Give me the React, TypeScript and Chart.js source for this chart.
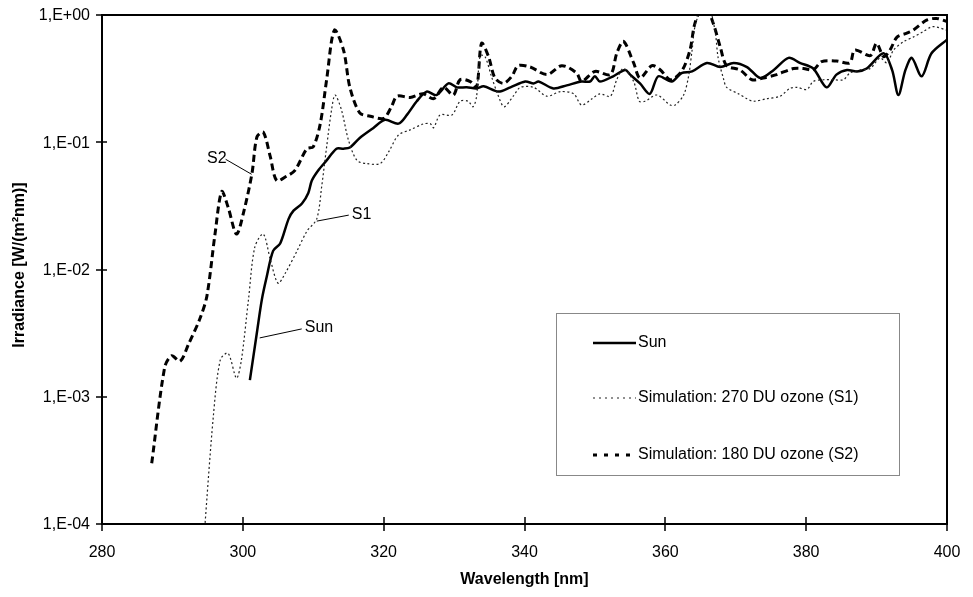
import React, { useEffect, useRef } from "react";
import { Chart, registerables } from "chart.js";

Chart.register(...registerables);

const FONT = '"Liberation Sans", Arial, Helvetica, sans-serif';

// Wavelength [nm] ticks and irradiance decades
const xTicks = [280, 300, 320, 340, 360, 380, 400];
const yTicks = [1e-4, 1e-3, 1e-2, 1e-1, 1];

const seriesNames = ["Sun", "Simulation: 270 DU ozone (S1)", "Simulation: 180 DU ozone (S2)"];

// [wavelength nm, irradiance W/(m2 nm)]
const sunData: number[][] = [
  [301.0, 0.00135], [302.0, 0.0032], [302.7, 0.0058], [303.4, 0.0088], [304.3, 0.014],
  [305.3, 0.016], [306.5, 0.025], [307.2, 0.029], [308.4, 0.033], [309.3, 0.04],
  [309.8, 0.05], [310.7, 0.06], [311.9, 0.072], [313.3, 0.089], [314.3, 0.089],
  [315.2, 0.091], [316.6, 0.108], [318.5, 0.129], [320.2, 0.15], [322.1, 0.14],
  [323.3, 0.164], [324.7, 0.21], [326.1, 0.25], [327.5, 0.235], [329.2, 0.29],
  [330.4, 0.27], [331.8, 0.27], [333.2, 0.265], [334.2, 0.275], [336.3, 0.25],
  [338.0, 0.27], [340.1, 0.3], [341.3, 0.29], [342.0, 0.3], [344.1, 0.265],
  [346.0, 0.28], [348.1, 0.3], [349.3, 0.3], [350.0, 0.33], [350.7, 0.3],
  [352.6, 0.33], [354.3, 0.37], [355.0, 0.34], [356.4, 0.29], [357.8, 0.24],
  [359.0, 0.33], [360.9, 0.3], [362.3, 0.35], [363.8, 0.36], [365.9, 0.42],
  [367.8, 0.39], [369.7, 0.42], [371.6, 0.39], [373.5, 0.32], [375.4, 0.37],
  [377.5, 0.46], [379.1, 0.42], [381.0, 0.38], [382.9, 0.27], [384.3, 0.34],
  [385.8, 0.37], [387.2, 0.36], [388.6, 0.38], [391.0, 0.5], [392.2, 0.37],
  [393.1, 0.235], [394.1, 0.37], [395.0, 0.46], [396.4, 0.33], [397.8, 0.5],
  [400.0, 0.64],
];

const s1Data: number[][] = [
  [294.5, 0.00008], [295.8, 0.00069], [296.8, 0.00195], [297.9, 0.0022], [299.1, 0.0014],
  [299.8, 0.00195], [300.8, 0.0058], [301.7, 0.015], [302.9, 0.019], [303.9, 0.012],
  [305.0, 0.0078], [306.0, 0.0093], [307.7, 0.014], [309.1, 0.02], [310.5, 0.025],
  [311.2, 0.045], [311.9, 0.092], [312.6, 0.18], [313.1, 0.235], [314.0, 0.18],
  [315.0, 0.104], [316.2, 0.072], [317.6, 0.068], [319.5, 0.068], [320.7, 0.084],
  [322.1, 0.114], [323.75, 0.125], [325.6, 0.139], [326.6, 0.14], [327.1, 0.13],
  [328.0, 0.164], [329.7, 0.164], [330.85, 0.21], [332.0, 0.21], [332.7, 0.19],
  [333.2, 0.23], [333.7, 0.48], [334.4, 0.47], [335.3, 0.33], [336.3, 0.23],
  [337.1, 0.19], [338.4, 0.23], [339.4, 0.27], [341.3, 0.27], [343.2, 0.23],
  [345.1, 0.25], [347.0, 0.24], [348.1, 0.196], [349.6, 0.22], [350.7, 0.24],
  [352.2, 0.23], [353.1, 0.31], [354.05, 0.38], [355.5, 0.3], [356.3, 0.21],
  [357.1, 0.21], [358.8, 0.235], [360.7, 0.196], [361.4, 0.196], [362.6, 0.235],
  [363.3, 0.33], [363.8, 0.53], [364.3, 0.86], [365.3, 1.1], [366.3, 1.1],
  [367.1, 0.72], [367.5, 0.46], [368.3, 0.31], [368.7, 0.27], [370.4, 0.24],
  [371.6, 0.22], [372.5, 0.21], [374.4, 0.22], [376.3, 0.23], [377.7, 0.265],
  [378.7, 0.27], [380.1, 0.26], [381.0, 0.3], [382.5, 0.31], [383.9, 0.31],
  [385.3, 0.31], [386.2, 0.35], [387.7, 0.37], [389.1, 0.38], [390.5, 0.46],
  [391.5, 0.42], [392.4, 0.53], [393.9, 0.62], [395.2, 0.67], [396.6, 0.74],
  [398.0, 0.81], [400.0, 0.76],
];

const s2Data: number[][] = [
  [287.06, 0.0003], [288.9, 0.0017], [289.9, 0.0021], [291.1, 0.0019], [292.3, 0.0026],
  [293.9, 0.0041], [294.9, 0.0062], [296.05, 0.019], [297.0, 0.041], [297.9, 0.031],
  [299.1, 0.019], [300.1, 0.028], [301.3, 0.057], [302.0, 0.11], [302.9, 0.12],
  [303.9, 0.077], [304.8, 0.05], [306.2, 0.054], [307.4, 0.06], [309.1, 0.089],
  [310.0, 0.092], [311.0, 0.14], [311.9, 0.31], [313.0, 0.76], [314.3, 0.53],
  [315.2, 0.27], [316.6, 0.17], [318.1, 0.16], [320.0, 0.154], [321.1, 0.19],
  [321.9, 0.23], [323.75, 0.225], [325.6, 0.24], [327.1, 0.22], [328.5, 0.27],
  [329.9, 0.235], [330.85, 0.31], [332.3, 0.3], [333.2, 0.27], [333.9, 0.6],
  [334.9, 0.47], [335.8, 0.32], [337.0, 0.29], [338.2, 0.33], [339.1, 0.4],
  [340.8, 0.39], [343.2, 0.34], [345.3, 0.4], [347.4, 0.35], [348.1, 0.3],
  [350.0, 0.36], [352.2, 0.34], [353.1, 0.5], [354.05, 0.62], [355.5, 0.42],
  [356.4, 0.32], [358.1, 0.4], [359.3, 0.37], [360.7, 0.31], [362.3, 0.36],
  [363.5, 0.53], [364.2, 0.86], [365.5, 1.25], [366.8, 0.86], [367.8, 0.56],
  [368.7, 0.4], [370.6, 0.37], [372.3, 0.31], [373.9, 0.32], [375.8, 0.34],
  [378.2, 0.38], [379.6, 0.38], [381.0, 0.37], [382.2, 0.43], [384.3, 0.435],
  [386.2, 0.42], [386.9, 0.53], [389.1, 0.48], [390.0, 0.6], [391.0, 0.47],
  [391.9, 0.53], [392.9, 0.67], [394.3, 0.72], [395.2, 0.76], [397.1, 0.91],
  [398.5, 0.94], [400.0, 0.89],
];

// curve labels: text, anchor point on curve [nm, value], leader offset in px
const curveLabels: { text: string; at: number[]; dx: number; dy: number; side: "left" | "right" }[] = [
  { text: "S2", at: [301.25, 0.056], dx: -26, dy: -15, side: "left" },
  { text: "S1", at: [310.5, 0.024], dx: 32, dy: -6, side: "right" },
  { text: "Sun", at: [302.4, 0.0029], dx: 42, dy: -9, side: "right" },
];

const fmtY = (v: number) => {
  const e = Math.round(Math.log10(v));
  return "1,E" + (e < 0 ? "-" : "+") + String(Math.abs(e)).padStart(2, "0");
};

const toPts = (d: number[][]) => d.map(([x, y]) => ({ x, y }));

const decorPlugin = {
  id: "decor",
  afterDatasetsDraw(chart: any) {
    const { ctx, chartArea: a, scales } = chart;
    const xs = scales.x;
    const ys = scales.y;
    ctx.save();
    ctx.strokeStyle = "#000";
    ctx.fillStyle = "#000";
    // frame
    ctx.lineWidth = 2;
    ctx.strokeRect(a.left, a.top, a.right - a.left, a.bottom - a.top);
    // ticks crossing axes
    ctx.lineWidth = 1.5;
    ctx.beginPath();
    for (const v of yTicks) {
      const py = Math.round(ys.getPixelForValue(v));
      ctx.moveTo(a.left - 6, py);
      ctx.lineTo(v === 1 ? a.left : a.left + 5, py);
    }
    for (const v of xTicks) {
      const px = Math.round(xs.getPixelForValue(v));
      ctx.moveTo(px, a.bottom + 7);
      ctx.lineTo(px, v === 280 || v === 400 ? a.bottom : a.bottom - 7);
    }
    ctx.stroke();

    // tick labels
    ctx.font = "16px " + FONT;
    ctx.textBaseline = "middle";
    ctx.textAlign = "right";
    for (const v of yTicks) {
      ctx.fillText(fmtY(v), a.left - 12, ys.getPixelForValue(v) + 1);
    }
    ctx.textAlign = "center";
    for (const v of xTicks) {
      ctx.fillText(String(v), xs.getPixelForValue(v), a.bottom + 29);
    }

    // curve labels
    ctx.lineWidth = 1;
    for (const l of curveLabels) {
      const px = xs.getPixelForValue(l.at[0]);
      const py = ys.getPixelForValue(l.at[1]);
      const ex = px + l.dx;
      const ey = py + l.dy;
      ctx.beginPath();
      ctx.moveTo(px, py);
      ctx.lineTo(ex, ey);
      ctx.stroke();
      ctx.textAlign = l.side === "left" ? "right" : "left";
      ctx.fillText(l.text, l.side === "left" ? ex + 1 : ex + 3, ey - 1);
    }

    // legend box
    const bx = 556, by = 313, bw = 343, bh = 162;
    ctx.fillStyle = "#fff";
    ctx.fillRect(bx, by, bw, bh);
    ctx.strokeStyle = "#888";
    ctx.lineWidth = 1;
    ctx.strokeRect(bx + 0.5, by + 0.5, bw, bh);
    const rows = [343, 398, 455];
    const styles = [
      { w: 2.5, dash: [] as number[], color: "#000" },
      { w: 1.2, dash: [2, 4], color: "#222" },
      { w: 3, dash: [4, 7], color: "#000" },
    ];
    rows.forEach((ry, i) => {
      const s = styles[i];
      ctx.beginPath();
      ctx.strokeStyle = s.color;
      ctx.lineWidth = s.w;
      ctx.setLineDash(s.dash);
      ctx.moveTo(593, ry);
      ctx.lineTo(636, ry);
      ctx.stroke();
      ctx.setLineDash([]);
      ctx.fillStyle = "#000";
      ctx.textAlign = "left";
      ctx.fillText(seriesNames[i], 638, ry);
    });

    // axis titles
    ctx.font = "bold 16px " + FONT;
    ctx.textAlign = "center";
    ctx.fillText("Wavelength [nm]", (a.left + a.right) / 2, 580);
    ctx.translate(20, 265);
    ctx.rotate(-Math.PI / 2);
    ctx.fillText("Irradiance [W/(m²nm)]", 0, 0);
    ctx.restore();
  },
};

export default function App() {
  const ref = useRef<HTMLCanvasElement | null>(null);
  useEffect(() => {
    if (!ref.current) return;
    const chart = new Chart(ref.current, {
      type: "line",
      data: {
        datasets: [
          {
            label: seriesNames[1],
            data: toPts(s1Data),
            borderColor: "#222",
            borderWidth: 1.2,
            borderDash: [2, 2.5],
            pointRadius: 0,
            tension: 0.3,
            fill: false,
          },
          {
            label: seriesNames[2],
            data: toPts(s2Data),
            borderColor: "#000",
            borderWidth: 3,
            borderDash: [7, 4],
            pointRadius: 0,
            tension: 0.3,
            fill: false,
          },
          {
            label: seriesNames[0],
            data: toPts(sunData),
            borderColor: "#000",
            borderWidth: 2.5,
            pointRadius: 0,
            tension: 0.3,
            fill: false,
          },
        ],
      },
      options: {
        animation: false,
        responsive: true,
        maintainAspectRatio: false,
        layout: { padding: { top: 15, right: 26, left: 0, bottom: 0 } },
        plugins: { legend: { display: false }, tooltip: { enabled: false } },
        scales: {
          x: {
            type: "linear",
            min: 280,
            max: 400,
            afterBuildTicks: (s: any) => {
              s.ticks = xTicks.map((v) => ({ value: v }));
            },
            afterFit: (s: any) => {
              s.height = 73;
            },
            ticks: { display: false },
            grid: { display: false, drawTicks: false },
            border: { display: false },
          },
          y: {
            type: "logarithmic",
            min: 1e-4,
            max: 1,
            afterBuildTicks: (s: any) => {
              s.ticks = yTicks.map((v) => ({ value: v }));
            },
            afterFit: (s: any) => {
              s.width = 102;
            },
            ticks: { display: false },
            grid: { display: false, drawTicks: false },
            border: { display: false },
          },
        },
      },
      plugins: [decorPlugin],
    });
    return () => chart.destroy();
  }, []);
  return (
    <div style={{ position: "absolute", left: 0, top: 0, width: 973, height: 597, background: "#fff" }}>
      <canvas ref={ref} />
    </div>
  );
}
